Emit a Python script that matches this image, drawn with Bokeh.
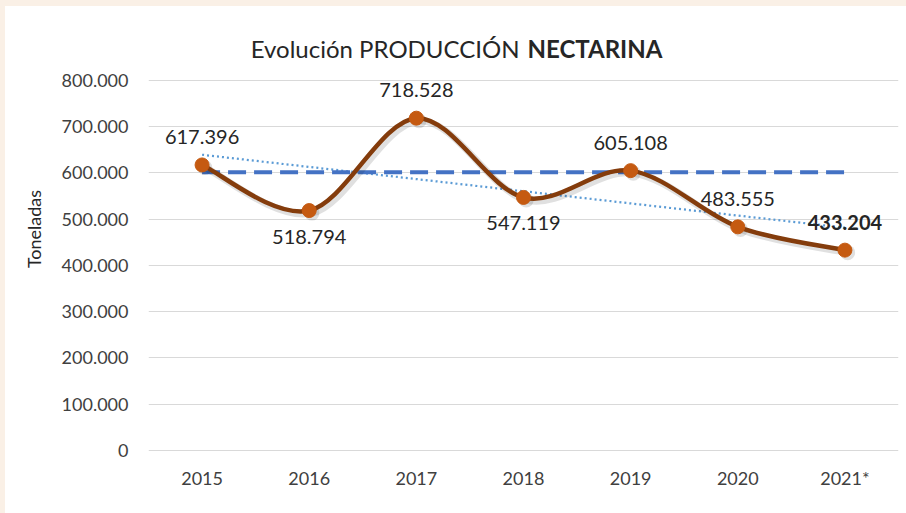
from bokeh.plotting import figure
from bokeh.models import Range1d, FixedTicker, Label, ColumnDataSource, Div
from bokeh.layouts import column, row
from bokeh.embed import file_html
from bokeh.resources import INLINE
from bokeh.core.properties import value

# ---------------- data ----------------
years = ["2015", "2016", "2017", "2018", "2019", "2020", "2021*"]
produccion = [617396, 518794, 718528, 547119, 605108, 483555, 433204]
y_ticks = [0, 100000, 200000, 300000, 400000, 500000, 600000, 700000, 800000]
label_side = ["above", "below", "above", "below", "above", "above", "above"]
label_bold = [False, False, False, False, False, False, True]
media_years = 5  # average of 2015-2019


def fmt(v):
    return f"{int(round(v)):,}".replace(",", ".")


n = len(years)
xs = list(range(n))

# average line (2015-2019)
media = sum(produccion[:media_years]) / media_years

# linear trend
xm = sum(xs) / n
ym = sum(produccion) / n
slope = sum((a - xm) * (b - ym) for a, b in zip(xs, produccion)) / sum((a - xm) ** 2 for a in xs)
intercept = ym - slope * xm
trend_x = [xs[0], xs[-1]]
trend_y = [intercept + slope * xs[0], intercept + slope * xs[-1]]

# smooth line segments (Catmull-Rom -> cubic Bezier control points)
seg = dict(x0=[], y0=[], x1=[], y1=[], cx0=[], cy0=[], cx1=[], cy1=[])
for i in range(n - 1):
    ip = i - 1 if i > 0 else i
    inn = i + 2 if i + 2 < n else i + 1
    seg["x0"].append(xs[i]); seg["y0"].append(produccion[i])
    seg["x1"].append(xs[i + 1]); seg["y1"].append(produccion[i + 1])
    seg["cx0"].append(xs[i] + (xs[i + 1] - xs[ip]) / 6)
    seg["cy0"].append(produccion[i] + (produccion[i + 1] - produccion[ip]) / 6)
    seg["cx1"].append(xs[i + 1] - (xs[inn] - xs[i]) / 6)
    seg["cy1"].append(produccion[i + 1] - (produccion[inn] - produccion[i]) / 6)

FONT = "Lato"
PEACH = "#FAF0E6"

p = figure(width=901, height=507, output_backend="svg", toolbar_location=None,
           x_range=Range1d(-0.5, 6.5), y_range=Range1d(-2200, 960000),
           min_border_left=143, min_border_right=8, min_border_top=0, min_border_bottom=62)
p.outline_line_color = None
p.background_fill_color = "white"
p.border_fill_color = "white"

# grid
p.xgrid.visible = False
p.ygrid.grid_line_color = "#d9d9d9"
p.ygrid.grid_line_width = 1

# axes
p.xaxis.ticker = FixedTicker(ticks=xs)
p.xaxis.major_label_overrides = {i: y for i, y in enumerate(years)}
p.yaxis.ticker = FixedTicker(ticks=y_ticks)
p.yaxis.major_label_overrides = {t: fmt(t) for t in y_ticks}
for ax in (p.xaxis[0], p.yaxis[0]):
    ax.axis_line_color = None
    ax.major_tick_line_color = None
    ax.minor_tick_line_color = None
    ax.major_tick_in = 0
    ax.major_tick_out = 0
    ax.major_label_text_font = FONT
    ax.major_label_text_font_size = "18px"
    ax.major_label_text_color = "#404040"
p.yaxis[0].major_label_standoff = 20
p.xaxis[0].major_label_standoff = 15
p.yaxis[0].axis_label = "Toneladas"
p.yaxis[0].axis_label_text_font = FONT
p.yaxis[0].axis_label_text_font_size = "18px"
p.yaxis[0].axis_label_text_font_style = "normal"
p.yaxis[0].axis_label_text_color = "#262626"
p.yaxis[0].axis_label_standoff = 14

# trend (dotted)
p.line(trend_x, trend_y, line_color="#5B9BD5", line_width=2.25, line_dash="2 3")

# average (dashed)
p.line([xs[0], xs[-1]], [media, media], line_color="#4472C4", line_width=4, line_dash="18 8")

# shadow of the smooth line
dx, dy = 0.025, -5500
shadow = ColumnDataSource(dict(
    x0=[v + dx for v in seg["x0"]], y0=[v + dy for v in seg["y0"]],
    x1=[v + dx for v in seg["x1"]], y1=[v + dy for v in seg["y1"]],
    cx0=[v + dx for v in seg["cx0"]], cy0=[v + dy for v in seg["cy0"]],
    cx1=[v + dx for v in seg["cx1"]], cy1=[v + dy for v in seg["cy1"]],
))
p.bezier(x0="x0", y0="y0", x1="x1", y1="y1", cx0="cx0", cy0="cy0", cx1="cx1", cy1="cy1",
         source=shadow, line_color="black", line_alpha=0.12, line_width=7, line_cap="round")
p.scatter([v + dx for v in xs], [v + dy for v in produccion], size=15,
          fill_color="black", fill_alpha=0.12, line_color=None)

# smooth line
p.bezier(x0="x0", y0="y0", x1="x1", y1="y1", cx0="cx0", cy0="cy0", cx1="cx1", cy1="cy1",
         source=ColumnDataSource(seg), line_color="#843C0C", line_width=4.5, line_cap="round")
p.scatter(xs, produccion, size=14, fill_color="#C55A11", line_color="#C55A11")

# data labels
lab = ColumnDataSource(dict(
    x=xs, y=produccion, text=[fmt(v) for v in produccion],
    off=[-28 if s == "above" else 26 for s in label_side],
    style=["bold" if b else "normal" for b in label_bold],
))
p.text(x="x", y="y", text="text", y_offset="off", source=lab, text_align="center",
       text_baseline="middle", text_font=value(FONT), text_font_size="20px",
       text_font_style="style", text_color="#262626")

# title (mixed weight)
p.add_layout(Label(x=3.0, y=870000, x_offset=-4,
                   text="Evolución PRODUCCIÓN", text_align="right", text_baseline="alphabetic",
                   text_font=FONT, text_font_size="24px", text_color="#262626"))
p.add_layout(Label(x=3.0, y=870000, x_offset=4,
                   text="NECTARINA", text_align="left", text_baseline="alphabetic",
                   text_font=FONT, text_font_size="24px", text_font_style="bold",
                   text_color="#262626"))

top_bar = Div(text="", width=906, height=6, margin=0,
              styles={"background-color": PEACH})
left_bar = Div(text="", width=5, height=507, margin=0,
               styles={"background-color": PEACH})
layout = column(top_bar, row(left_bar, p, spacing=0), spacing=0)

open("out.html", "w").write(file_html(layout, INLINE))
